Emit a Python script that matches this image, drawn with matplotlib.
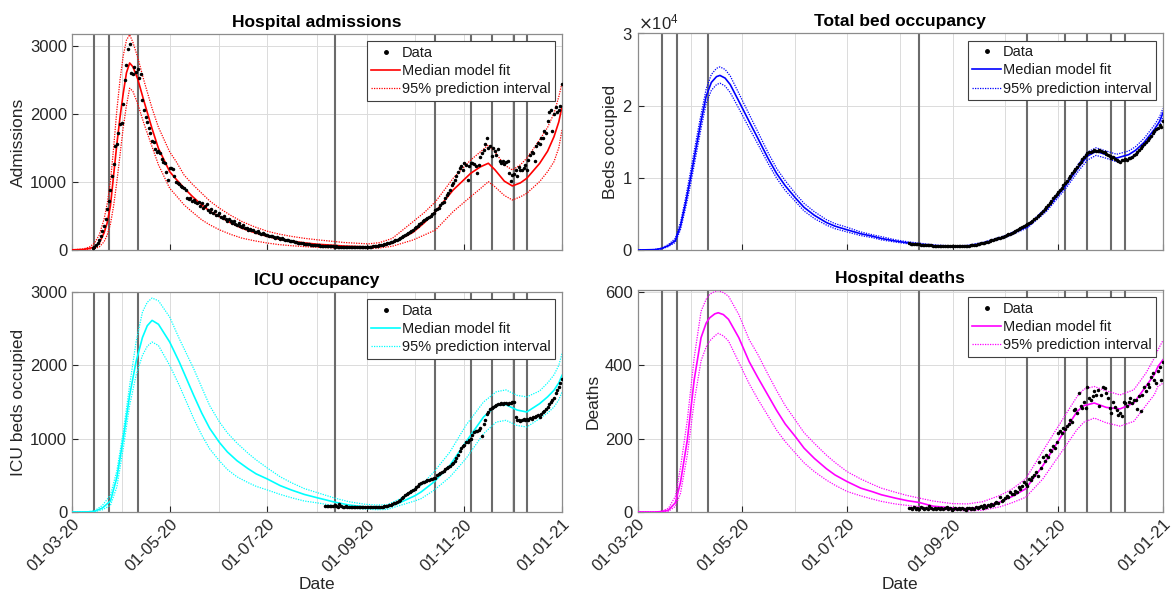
import matplotlib
matplotlib.use("Agg")
import matplotlib.pyplot as plt
import matplotlib.dates as mdates
from matplotlib.lines import Line2D
from matplotlib.ticker import ScalarFormatter
import numpy as np

plt.rcParams['font.family'] = ['Liberation Sans', 'DejaVu Sans']

# day numbers are days since 1 March 2020
start = np.datetime64('2020-03-01')
end = np.datetime64('2021-01-01')

interventions = ['2020-03-15', '2020-03-24', '2020-04-11', '2020-08-12', '2020-10-14',
                 '2020-11-05', '2020-11-18', '2020-12-02', '2020-12-10']

# ---- hospital admissions ----
adm_fit_day = [0, 7, 11, 14, 17, 20, 22, 24, 26, 28, 30, 32, 34, 36, 38, 41, 45, 50, 54, 61,
               65, 70, 75, 81, 86, 92, 99, 106, 114, 122, 129, 137, 145, 153, 170, 185, 192, 200,
               213, 220, 227, 238, 249, 255, 260, 264, 270, 275, 280, 284, 292, 297, 301, 304, 306]
adm_med = [2, 8, 25, 45, 100, 250, 400, 650, 1100, 1550, 1950, 2300, 2600, 2745, 2690, 2513,
           2180, 1780, 1490, 1150, 1040, 910, 790, 662, 570, 492, 400, 321, 255, 200, 160, 130,
           105, 85, 58, 45, 60, 100, 260, 400, 563, 880, 1126, 1220, 1273, 1180, 1010, 940, 985,
           1052, 1270, 1450, 1663, 1880, 2104]
adm_hi = [3, 15, 45, 100, 220, 450, 680, 1000, 1500, 2050, 2500, 2850, 3080, 3160, 3050, 2830,
          2480, 2080, 1800, 1440, 1300, 1100, 970, 833, 720, 614, 510, 419, 340, 275, 235, 200,
          172, 150, 110, 90, 108, 170, 416, 550, 709, 1052, 1321, 1440, 1541, 1443, 1250, 1174,
          1250, 1346, 1615, 1800, 2006, 2250, 2447]
adm_lo = [1, 4, 12, 20, 45, 120, 220, 380, 650, 1000, 1400, 1800, 2120, 2374, 2330, 2148, 1850,
          1515, 1250, 906, 800, 662, 560, 443, 370, 297, 230, 175, 135, 102, 80, 63, 50, 39, 25,
          22, 30, 55, 147, 220, 294, 563, 783, 900, 1003, 930, 800, 734, 780, 832, 1003, 1150,
          1296, 1500, 1762]
adm_data_first = 13
adm_data = [30, 45, 70, 105, 150, 200, 275, 350, 450, 600,
            720, 880, 1080, 1260, 1520, 1560, 1720, 1850, 1870, 2150,
            2500, 2720, 2950, 3020, 2600, 2590, 2690, 2610, 2660, 2520,
            2590, 2200, 2050, 1950, 1880, 1790, 1720, 1600, 1590, 1480,
            1440, 1460, 1420, 1330, 1290, 1280, 1150, 1030, 1200, 1210,
            1190, 1090, 1000, 985, 970, 940, 920, 910, 880, 770,
            750, 760, 720, 740, 700, 690, 710, 650, 690, 620,
            650, 670, 580, 560, 600, 540, 570, 520, 510, 540,
            480, 470, 500, 450, 430, 460, 420, 400, 430, 380,
            370, 390, 350, 340, 360, 330, 320, 300, 310, 290,
            300, 270, 260, 280, 250, 240, 250, 230, 220, 225,
            210, 200, 205, 190, 180, 185, 175, 165, 170, 155,
            150, 145, 140, 135, 130, 125, 120, 115, 110, 105,
            100, 98, 92, 90, 85, 82, 80, 78, 75, 72,
            70, 68, 66, 64, 62, 60, 58, 56, 55, 54,
            52, 50, 52, 48, 47, 46, 48, 45, 44, 45,
            43, 42, 44, 41, 40, 42, 40, 39, 41, 40,
            42, 44, 46, 48, 50, 53, 56, 60, 64, 68,
            72, 78, 84, 90, 98, 105, 112, 120, 130, 140,
            152, 165, 178, 190, 205, 220, 235, 250, 268, 285,
            300, 320, 340, 355, 375, 400, 420, 440, 450, 470,
            480, 500, 530, 545, 580, 600, 620, 660, 690, 710,
            760, 800, 830, 880, 950, 980, 1030, 1080, 1150, 1200,
            1230, 1180, 1270, 1250, 1030, 1230, 1280, 1270, 1260, 1230,
            1130, 1250, 1370, 1420, 1470, 1560, 1640, 1500, 1520, 1380,
            1490, 1460, 1400, 1480, 1300, 1270, 1300, 1260, 1290, 1300,
            1130, 1010, 1100, 1120, 1180, 1090, 1220, 1180, 1170, 1200,
            1250, 1170, 1320, 1390, 1440, 1430, 1300, 1520, 1570, 1560,
            1640, 1650, 1750, 1720, 1900, 2030, 2050, 1750, 2000, 2100,
            2020, 2050, 2120, 2430]

# ---- total bed occupancy ----
beds_fit_day = [0, 10, 14, 18, 22, 25, 28, 31, 34, 37, 40, 43, 46, 48, 51, 54, 59, 65, 70, 76,
                81, 86, 92, 97, 103, 110, 115, 122, 130, 137, 142, 150, 157, 164, 173, 183, 192,
                201, 214, 227, 238, 249, 257, 262, 267, 273, 279, 286, 290, 295, 301, 304, 306]
beds_med = [0, 50, 200, 600, 1300, 3300, 6500, 10100, 14000, 17800, 21300, 23200, 24000, 24170,
            23800, 22900, 20600, 17800, 15500, 12700, 10600, 8900, 7200, 5900, 4800, 3800, 3300,
            2800, 2250, 1900, 1600, 1250, 1000, 800, 600, 480, 550, 930, 1850, 3240, 5560, 8800,
            11500, 13000, 13660, 13200, 12730, 13200, 13800, 14900, 16700, 17800, 19000]
beds_hi = [0, 70, 260, 750, 1600, 3800, 7200, 11000, 15000, 18800, 22300, 24300, 25150, 25350,
           25000, 24100, 21700, 18800, 16400, 13500, 11300, 9600, 7800, 6450, 5300, 4200, 3650,
           3150, 2500, 2100, 1850, 1420, 1150, 950, 700, 580, 640, 1050, 2000, 3450, 5850, 9200,
           12000, 13550, 14150, 13700, 13250, 13700, 14300, 15450, 17300, 18450, 19600]
beds_lo = [0, 35, 150, 480, 1050, 2800, 5800, 9200, 13000, 16800, 20300, 22100, 22900, 23100,
           22700, 21800, 19600, 16900, 14700, 12000, 9950, 8250, 6700, 5400, 4350, 3450, 2950,
           2500, 2000, 1700, 1400, 1100, 880, 680, 510, 400, 470, 820, 1700, 3050, 5300, 8400,
           11000, 12450, 13100, 12700, 12200, 12650, 13300, 14350, 16100, 17200, 18400]
beds_data_first = 158
beds_data = [900, 880, 860, 840, 820, 800, 780, 760, 740, 720,
             700, 680, 660, 640, 620, 600, 590, 580, 570, 560,
             550, 540, 530, 520, 510, 500, 500, 500, 500, 510,
             520, 530, 550, 570, 590, 620, 650, 680, 720, 760,
             800, 850, 900, 960, 1020, 1090, 1160, 1240, 1320, 1410,
             1500, 1580, 1630, 1700, 1780, 1860, 1950, 2050, 2150, 2260,
             2370, 2490, 2610, 2740, 2870, 3000, 3130, 3255, 3400, 3560,
             3720, 3900, 4080, 4280, 4480, 4700, 4900, 5115, 5400, 5680,
             5950, 6250, 6550, 6850, 7150, 7440, 7750, 8050, 8350, 8650,
             9000, 9300, 9600, 9950, 10300, 10600, 10900, 11160, 11500, 11900,
             12200, 12555, 12900, 13200, 13450, 13578, 13500, 13650, 13800, 13700,
             13750, 13900, 13700, 13500, 13600, 13300, 13200, 13000, 12800, 12900,
             12600, 12400, 12300, 12200, 12500, 12400, 12600, 12500, 12700, 12800,
             12900, 13100, 13300, 13600, 13900, 14100, 14400, 14700, 14900, 15200,
             15500, 15800, 16200, 16500, 16800, 16900, 17300, 17000, 17900]

# ---- ICU occupancy ----
icu_fit_day = [0, 10, 14, 19, 24, 28, 32, 36, 40, 44, 47, 50, 54, 61, 67, 76, 81, 86, 92, 97,
               103, 110, 115, 122, 130, 137, 145, 153, 164, 173, 183, 190, 197, 205, 214, 218,
               226, 236, 246, 257, 265, 271, 278, 284, 292, 297, 301, 304, 306]
icu_med = [0, 2, 8, 55, 150, 470, 1000, 1591, 2050, 2380, 2540, 2613, 2560, 2318, 2045, 1591,
           1350, 1140, 950, 820, 700, 590, 520, 450, 360, 300, 240, 195, 135, 95, 70, 60, 62, 130,
           220, 273, 409, 636, 955, 1295, 1454, 1463, 1390, 1364, 1477, 1570, 1660, 1760, 1864]
icu_hi = [0, 4, 15, 90, 230, 560, 1091, 1727, 2318, 2727, 2860, 2918, 2880, 2659, 2363, 1954,
          1700, 1450, 1230, 1080, 940, 800, 710, 600, 480, 400, 320, 265, 190, 140, 105, 95, 100,
          182, 320, 364, 545, 818, 1182, 1500, 1640, 1665, 1590, 1570, 1650, 1760, 1870, 2000,
          2159]
icu_lo = [0, 1, 4, 30, 91, 341, 864, 1454, 1864, 2136, 2260, 2318, 2270, 2000, 1727, 1273, 1050,
          860, 700, 580, 480, 400, 350, 300, 240, 195, 150, 125, 85, 55, 40, 32, 35, 91, 150,
          182, 295, 477, 727, 1068, 1227, 1250, 1180, 1159, 1273, 1350, 1432, 1530, 1636]
icu_data_first = 158
icu_data = [85, 80, 78, 82, 76, 80, 100, 78, 75, 114,
            80, 74, 72, 76, 70, 72, 69, 71, 68, 70,
            68, 70, 66, 68, 65, 67, 64, 66, 63, 65,
            64, 62, 64, 66, 68, 70, 72, 76, 80, 86,
            92, 100, 108, 118, 128, 138, 148, 165, 185, 210,
            230, 250, 262, 275, 290, 305, 320, 340, 360, 380,
            395, 405, 410, 420, 430, 440, 445, 450, 460, 470,
            500, 520, 535, 550, 565, 580, 600, 615, 630, 650,
            670, 690, 730, 780, 830, 870, 900, 920, 950, 960,
            980, 1000, 1050, 1090, 1100, 1110, 1120, 1140, 1040, 1200,
            1260, 1330, 1370, 1400, 1420, 1430, 1450, 1460, 1470, 1475,
            1480, 1470, 1490, 1480, 1470, 1480, 1490, 1500, 1500, 1290,
            1250, 1260, 1240, 1250, 1265, 1255, 1270, 1260, 1280, 1270,
            1290, 1300, 1310, 1320, 1300, 1340, 1360, 1380, 1400, 1430,
            1470, 1500, 1530, 1560, 1620, 1660, 1710, 1760, 1814]

# ---- hospital deaths ----
dth_fit_day = [0, 10, 14, 18, 22, 25, 29, 33, 37, 40, 42, 45, 47, 50, 53, 59, 65, 70, 76, 81,
               86, 92, 97, 103, 110, 115, 122, 130, 137, 142, 150, 157, 164, 172, 183, 192, 201,
               211, 218, 226, 236, 248, 256, 260, 266, 273, 281, 289, 296, 301, 303, 306]
dth_med = [0, 0, 1, 5, 25, 80, 196, 360, 475, 515, 529, 540, 543, 538, 525, 475, 410, 367, 318,
           277, 240, 205, 174, 146, 118, 101, 83, 65, 55, 47, 38, 31, 26, 16, 11, 9, 14, 27, 42,
           63, 126, 216, 274, 290, 297, 285, 281, 297, 342, 375, 396, 415]
dth_hi = [0, 0, 2, 10, 42, 120, 250, 420, 547, 580, 593, 601, 603, 598, 588, 538, 470, 430, 375,
          331, 290, 250, 216, 187, 155, 135, 110, 90, 75, 65, 54, 45, 38, 30, 23, 22, 28, 45, 62,
          90, 166, 256, 315, 335, 342, 330, 319, 333, 378, 420, 441, 468]
dth_lo = [0, 0, 0, 2, 15, 50, 155, 300, 412, 450, 466, 480, 487, 480, 466, 408, 350, 308, 262,
          223, 192, 160, 134, 110, 87, 73, 56, 44, 35, 29, 22, 18, 15, 8, 6, 3, 5, 14, 25, 40, 90,
          171, 225, 245, 256, 243, 234, 247, 290, 320, 342, 351]
dth_data_first = 158
dth_data = [10, 12, 8, 14, 9, 11, 7, 13, 10, 9,
            12, 8, 15, 10, 9, 11, 8, 12, 9, 10,
            7, 11, 13, 8, 10, 6, 9, 12, 7, 10,
            8, 11, 9, 6, 10, 12, 8, 11, 9, 14,
            10, 13, 15, 12, 18, 14, 20, 17, 22, 19,
            25, 28, 24, 40, 30, 33, 38, 44, 42, 54,
            48, 50, 58, 55, 68, 62, 72, 81, 75, 70,
            90, 86, 95, 100, 110, 98, 135, 120, 150, 140,
            155, 149, 170, 165, 180, 175, 190, 216, 222, 215,
            230, 225, 234, 240, 250, 245, 279, 280, 270, 324,
            290, 283, 300, 283, 342, 310, 305, 315, 330, 320,
            333, 290, 319, 340, 337, 325, 310, 283, 270, 300,
            285, 279, 265, 270, 261, 301, 297, 290, 300, 310,
            297, 305, 306, 280, 315, 274, 320, 342, 330, 350,
            340, 369, 378, 360, 351, 385, 395, 360, 410]


def to_dates(days):
    return start + np.asarray(days).astype('timedelta64[D]')


def data_dates(first, values):
    return start + (first + np.arange(len(values))).astype('timedelta64[D]')


def draw_panel(ax, title, ylabel, color, fit_day, med, lo, hi, first, data, ymax, bottom):
    ax.grid(True, which='both', color='0.86', lw=0.7, zorder=0)
    ax.set_axisbelow(True)

    for d in interventions:
        ax.axvline(np.datetime64(d), color='0.42', lw=1.5, zorder=1)

    x = to_dates(fit_day)
    ax.plot(x, hi, color=color, lw=0.9, ls=(0, (1, 1)), zorder=2)
    ax.plot(x, lo, color=color, lw=0.9, ls=(0, (1, 1)), zorder=2)
    ax.plot(x, med, color=color, lw=1.2, zorder=3)
    ax.plot(data_dates(first, data), data, ls='none', marker='.', ms=3, color='black', zorder=4)

    ax.set_xlim(start, end)
    ax.set_ylim(0, ymax)
    ax.xaxis.set_major_locator(mdates.MonthLocator(bymonth=[1, 3, 5, 7, 9, 11]))
    ax.xaxis.set_minor_locator(mdates.MonthLocator())
    ax.xaxis.set_major_formatter(mdates.DateFormatter('%d-%m-%y'))

    ax.tick_params(which='both', direction='in', colors='0.15', labelsize=12, length=4)
    ax.tick_params(which='minor', length=0)
    for sp in ax.spines.values():
        sp.set_color('0.55')
        sp.set_linewidth(0.9)

    ax.set_title(title, fontsize=12.5, fontweight='bold', color='black', pad=5)
    ax.set_ylabel(ylabel, fontsize=12.5, color='0.15', labelpad=3)

    if bottom:
        plt.setp(ax.get_xticklabels(), rotation=45, ha='right', rotation_mode='anchor')
        ax.set_xlabel('Date', fontsize=12.5, color='0.15', labelpad=2)
    else:
        ax.tick_params(axis='x', labelbottom=False)

    handles = [Line2D([], [], ls='none', marker='.', ms=5, color='black'),
               Line2D([], [], color=color, lw=1.2),
               Line2D([], [], color=color, lw=0.9, ls=(0, (1, 1)))]
    leg = ax.legend(handles, ['Data', 'Median model fit', '95% prediction interval'],
                    loc='upper right', fontsize=10.5, fancybox=False, framealpha=1,
                    edgecolor='0.25', borderaxespad=0.5, handlelength=2.0,
                    handletextpad=0.1, borderpad=0.3, labelspacing=0.3)
    leg.get_frame().set_linewidth(0.8)
    for t in leg.get_texts():
        t.set_color('0.1')


fig = plt.figure(figsize=(11.73, 6), dpi=100)

ax1 = fig.add_axes([72 / 1173, 350 / 600, 490 / 1173, 216 / 600])
ax2 = fig.add_axes([637.5 / 1173, 350 / 600, 525.5 / 1173, 216.7 / 600])
ax3 = fig.add_axes([72 / 1173, 88 / 600, 490 / 1173, 220 / 600])
ax4 = fig.add_axes([637.5 / 1173, 88 / 600, 525.5 / 1173, 222 / 600])

draw_panel(ax1, 'Hospital admissions', 'Admissions', 'red', adm_fit_day, adm_med, adm_lo, adm_hi,
           adm_data_first, adm_data, 3170, False)
draw_panel(ax2, 'Total bed occupancy', 'Beds occupied', 'blue', beds_fit_day, beds_med, beds_lo,
           beds_hi, beds_data_first, beds_data, 30000, False)
draw_panel(ax3, 'ICU occupancy', 'ICU beds occupied', 'cyan', icu_fit_day, icu_med, icu_lo, icu_hi,
           icu_data_first, icu_data, 3000, True)
draw_panel(ax4, 'Hospital deaths', 'Deaths', 'magenta', dth_fit_day, dth_med, dth_lo, dth_hi,
           dth_data_first, dth_data, 605, True)

ax1.set_yticks([0, 1000, 2000, 3000])
ax3.set_yticks([0, 1000, 2000, 3000])
ax4.set_yticks([0, 200, 400, 600])
ax2.set_yticks([0, 10000, 20000, 30000])
fmt = ScalarFormatter(useMathText=True)
fmt.set_powerlimits((0, 0))
ax2.yaxis.set_major_formatter(fmt)
ax2.yaxis.get_offset_text().set_fontsize(12)
ax2.yaxis.get_offset_text().set_color('0.15')

fig.savefig('out.png', dpi=100)
